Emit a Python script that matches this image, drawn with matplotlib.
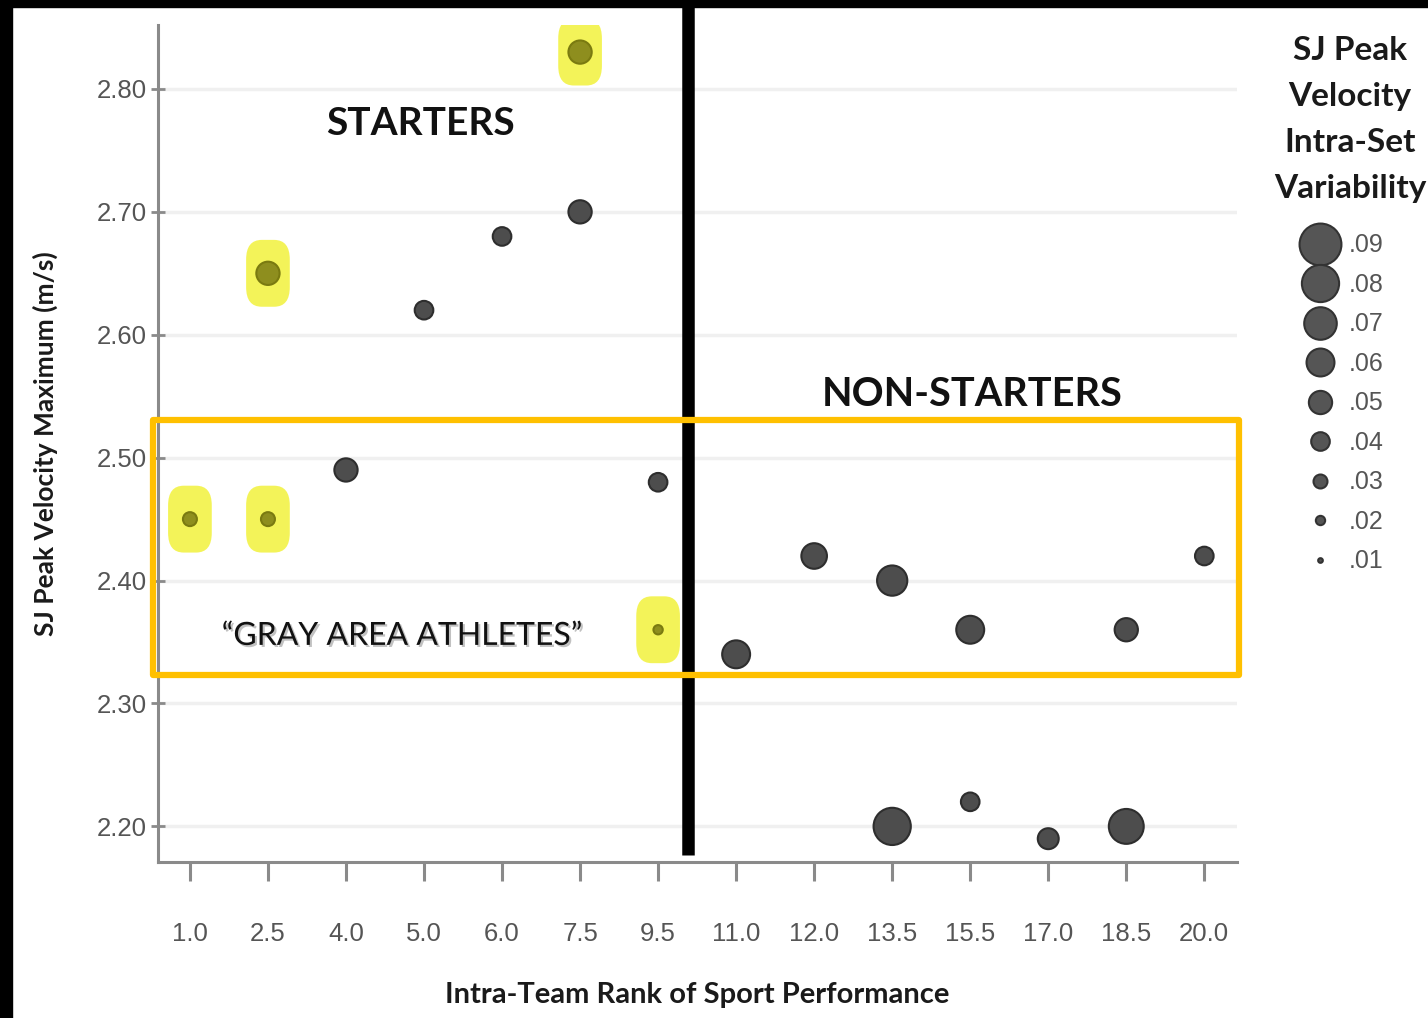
import matplotlib.pyplot as plt
import matplotlib.patheffects as pe
from matplotlib.patches import Rectangle, FancyBboxPatch
from matplotlib.lines import Line2D

# x axis is an ordinal rank scale, every rank gets an equal slot
rank_labels = ['1.0', '2.5', '4.0', '5.0', '6.0', '7.5', '9.5',
               '11.0', '12.0', '13.5', '15.5', '17.0', '18.5', '20.0']
y_ticks = [2.20, 2.30, 2.40, 2.50, 2.60, 2.70, 2.80]

# one entry per athlete
rank = ['1.0', '2.5', '2.5', '4.0', '5.0', '6.0', '7.5', '7.5', '9.5', '9.5',
        '11.0', '12.0', '13.5', '13.5', '15.5', '15.5', '17.0', '18.5', '18.5', '20.0']
velocity = [2.45, 2.65, 2.45, 2.49, 2.62, 2.68, 2.83, 2.70, 2.48, 2.36,
            2.34, 2.42, 2.40, 2.20, 2.36, 2.22, 2.19, 2.36, 2.20, 2.42]
variability = [.03, .05, .03, .05, .04, .04, .05, .05, .04, .02,
               .06, .055, .065, .08, .06, .04, .045, .05, .075, .04]
highlight = [True, True, True, False, False, False, True, False, False, True,
             False, False, False, False, False, False, False, False, False, False]

legend_values = [.09, .08, .07, .06, .05, .04, .03, .02, .01]
legend_labels = ['.09', '.08', '.07', '.06', '.05', '.04', '.03', '.02', '.01']


def msize(v):  # marker diameter in points
    return 335 * v


plt.rcParams['font.family'] = ['Lato', 'DejaVu Sans']

fig = plt.figure(figsize=(14.28, 10.18), dpi=100)
ax = fig.add_axes([0.1106, 0.1532, 0.7557, 0.8222])

xpos = [rank_labels.index(r) for r in rank]

# yellow highlights behind some of the athletes
for x, y, h in zip(xpos, velocity, highlight):
    if h:
        ax.add_patch(FancyBboxPatch((x - 0.24, y - 0.024), 0.48, 0.048,
                                    boxstyle='round,pad=0.04,rounding_size=0.2',
                                    mutation_aspect=0.08,
                                    fc='#f2f23c', ec='none', alpha=0.85, zorder=1))

colors = ['#8e8e1e' if h else '#4d4d4d' for h in highlight]
edges = ['#7a7a10' if h else '#2e2e2e' for h in highlight]
ax.scatter(xpos, velocity, s=[msize(v) ** 2 for v in variability],
           c=colors, edgecolors=edges, linewidths=1.5, zorder=3)

ax.set_xlim(-0.41, 13.42)
ax.set_ylim(2.171, 2.852)
ax.set_xticks(range(len(rank_labels)))
ax.set_xticklabels(rank_labels)
ax.set_yticks(y_ticks)
ax.set_yticklabels(['%.2f' % t for t in y_ticks])

for s in ['top', 'right']:
    ax.spines[s].set_visible(False)
for s in ['left', 'bottom']:
    ax.spines[s].set_color('#8a8a8a')
    ax.spines[s].set_linewidth(2.2)

ax.tick_params(axis='x', direction='out', length=14, width=2.2, color='#8a8a8a',
               pad=29, labelsize=18.5, labelcolor='#555555')
ax.tick_params(axis='y', direction='inout', length=10, width=2, color='#8a8a8a',
               pad=3, labelsize=18.5, labelcolor='#555555')
for lab in ax.get_xticklabels() + ax.get_yticklabels():
    lab.set_family('Liberation Sans')

ax.yaxis.grid(True, color='#f0f0f0', linewidth=2.5, zorder=0)
ax.set_axisbelow(True)

ax.set_xlabel('Intra-Team Rank of Sport Performance', fontsize=21,
              fontweight='bold', color='#1a1a1a', labelpad=26)
ax.set_ylabel('SJ Peak Velocity Maximum (m/s)', fontsize=19,
              fontweight='bold', color='#1a1a1a', labelpad=28)

# starters / non-starters divider
ax.plot([6.385, 6.385], [0.008, 1.04], color='black', linewidth=9,
        transform=ax.get_xaxis_transform(), clip_on=False, zorder=4,
        solid_capstyle='butt')

# gray area box
ax.add_patch(Rectangle((-0.47, 2.323), 13.92, 0.2076, fill=False,
                       ec='#ffc000', lw=4.5, joinstyle='round',
                       clip_on=False, zorder=5))

ax.text(2.95, 2.772, 'STARTERS', fontsize=28, fontweight='bold',
        ha='center', va='center', color='#111111')
ax.text(10.03, 2.551, 'NON-STARTERS', fontsize=28.5, fontweight='bold',
        ha='center', va='center', color='#111111')
ax.text(2.72, 2.355, '\u201cGRAY AREA ATHLETES\u201d', fontsize=23,
        ha='center', va='center', color='#111111',
        path_effects=[pe.withSimplePatchShadow(offset=(1.5, -1.5),
                                               shadow_rgbFace='#999999', alpha=0.6)])

# size legend
fig.text(0.9454, 0.965, 'SJ Peak\nVelocity\nIntra-Set\nVariability',
         fontsize=24, fontweight='bold', color='#1a1a1a', ha='center', va='top',
         multialignment='center', linespacing=1.72)
handles = [Line2D([], [], linestyle='none', marker='o', markersize=msize(v),
                  markerfacecolor='#555555', markeredgecolor='#333333',
                  markeredgewidth=1.5) for v in legend_values]
leg = fig.legend(handles, legend_labels, loc='upper left',
                 bbox_to_anchor=(0.9013, 0.783), frameon=False,
                 prop={'family': 'Liberation Sans', 'size': 18},
                 labelspacing=0.62, handletextpad=0.35, handlelength=1.6,
                 borderpad=0)
for t in leg.get_texts():
    t.set_color('#555555')

# black frame edges from the original screenshot
fig.patches.append(Rectangle((0, 0.993), 1, 0.007, transform=fig.transFigure,
                             color='black', zorder=10))
fig.patches.append(Rectangle((0, 0), 0.0085, 1, transform=fig.transFigure,
                             color='black', zorder=10))

fig.savefig('out.png', dpi=100)
